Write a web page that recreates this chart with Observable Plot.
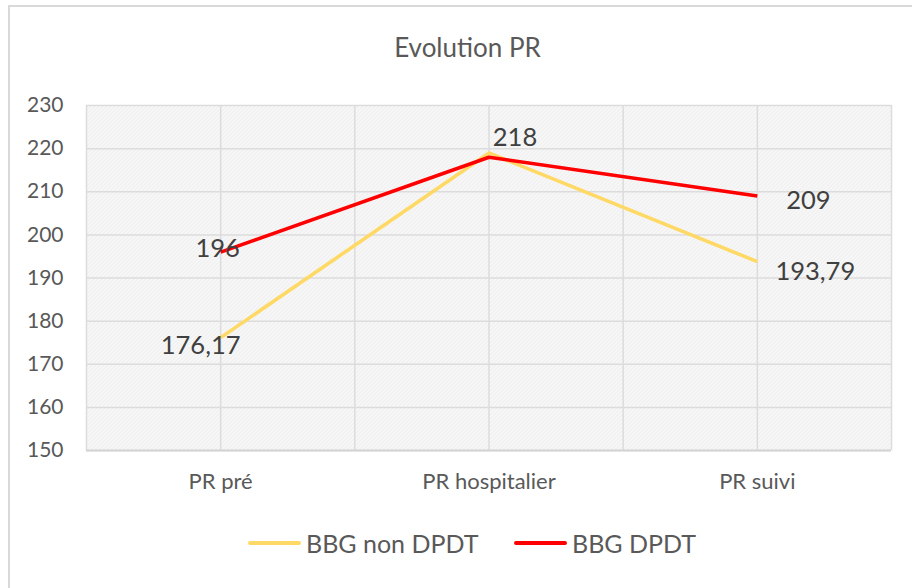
<!DOCTYPE html>
<html>
<head>
<meta charset="utf-8">
<script src="https://cdn.jsdelivr.net/npm/d3@7"></script>
<script src="https://cdn.jsdelivr.net/npm/@observablehq/plot@0.6"></script>
<style>
  html, body { margin: 0; padding: 0; background: #fff; }
  #wrap { position: relative; width: 912px; height: 588px; overflow: hidden; font-family: Lato, "Open Sans", sans-serif; }
  #border { position: absolute; left: 8px; top: 5px; width: 920px; height: 600px; border: 2px solid #d9d9d9; box-sizing: border-box; }
  #title { position: absolute; left: 0; top: 32px; width: 935px; text-align: center; font-size: 26px; color: #595959; line-height: 30px; }
  #chart { position: absolute; left: 0; top: 0; }
  .leg { position: absolute; top: 528px; height: 30px; display: flex; align-items: center; font-size: 25px; color: #595959; }
  .leg span.sw { display: inline-block; width: 53px; height: 4px; margin-right: 5px; border-radius: 2px; }
</style>
</head>
<body>
<div id="wrap">
  <div id="border"></div>
  <div id="title">Evolution PR</div>
  <div id="chart"></div>
  <div id="legend"></div>
</div>
<script>
const categories = ["PR pré", "PR hospitalier", "PR suivi"];
const seriesNames = ["BBG non DPDT", "BBG DPDT"];
const nonDpdt = [176.17, 219, 193.79];
const dpdt = [196, 218, 209];
const colors = ["#FFD966", "#FF0000"];
const yTicks = [150, 160, 170, 180, 190, 200, 210, 220, 230];
// labels shown: [series index, category index, text]
const labels = [
  [1, 0, "196"],
  [0, 0, "176,17"],
  [1, 1, "218"],
  [1, 2, "209"],
  [0, 2, "193,79"]
];
const labelOffsets = [[-3, -3], [-20, 8], [26, -19], [51, 5], [58, 10]];

const series = [nonDpdt, dpdt];
const rows = [];
series.forEach((vals, s) => vals.forEach((v, i) => rows.push({series: seriesNames[s], idx: i, value: v})));
const gridX = d3.range(-0.5, categories.length, 0.5);

const labelMarks = labels.map(([s, i, t], k) =>
  Plot.text([{idx: i, value: series[s][i], t}], {
    x: "idx", y: "value", text: "t",
    dx: labelOffsets[k][0], dy: labelOffsets[k][1],
    fill: "#404040", fontSize: 25.5
  })
);

const plot = Plot.plot({
  width: 912,
  height: 588,
  marginLeft: 86,
  marginRight: 21,
  marginTop: 105,
  marginBottom: 138,
  style: {fontFamily: "Lato, 'Open Sans', sans-serif", fontSize: "21px", color: "#595959", background: "transparent"},
  x: {type: "linear", domain: [-0.5, categories.length - 0.5]},
  y: {domain: [150, 230]},
  color: {domain: seriesNames, range: colors},
  marks: [
    Plot.frame({fill: "url(#bgpat)", stroke: null}),
    Plot.gridY(yTicks, {stroke: "#dcdcdc", strokeOpacity: 1, strokeWidth: 1.5}),
    Plot.ruleX(gridX, {stroke: "#dcdcdc", strokeOpacity: 1, strokeWidth: 1.5}),
    Plot.ruleY([150], {stroke: "#d4d4d4", strokeWidth: 2}),
    Plot.axisY(yTicks, {tickSize: 0, tickPadding: 23, fontSize: 21, label: null}),
    Plot.axisX(d3.range(categories.length), {tickSize: 0, tickPadding: 23, fontSize: 22, label: null, tickFormat: i => categories[i]}),
    Plot.line(rows, {x: "idx", y: "value", z: "series", stroke: "series", strokeWidth: 3.6, strokeLinejoin: "round", strokeLinecap: "butt"}),
    ...labelMarks
  ]
});

// background pattern
const svg = d3.select(plot);
const defs = svg.insert("defs", ":first-child");
const pat = defs.append("pattern").attr("id", "bgpat").attr("patternUnits", "userSpaceOnUse").attr("width", 4).attr("height", 4);
pat.append("rect").attr("width", 4).attr("height", 4).attr("fill", "#f8f8f8");
pat.append("path").attr("d", "M0,4 L4,0 M-1,1 L1,-1 M3,5 L5,3").attr("stroke", "#e8e8e8").attr("stroke-width", 1);

document.getElementById("chart").appendChild(plot);

// legend
const legend = document.getElementById("legend");
const legPos = [248, 514];
seriesNames.forEach((name, s) => {
  const d = document.createElement("div");
  d.className = "leg";
  d.style.left = legPos[s] + "px";
  d.innerHTML = `<span class="sw" style="background:${colors[s]}"></span>${name}`;
  legend.appendChild(d);
});
</script>
</body>
</html>
